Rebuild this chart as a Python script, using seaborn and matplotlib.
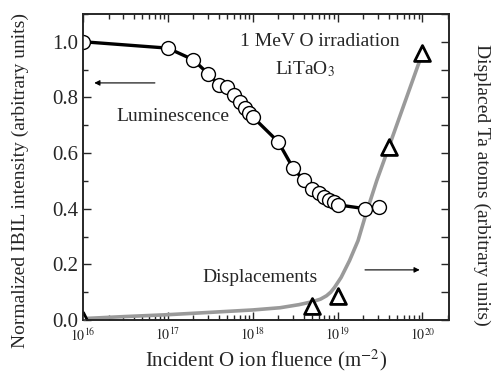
import numpy as np
import pandas as pd
import matplotlib
matplotlib.use("Agg")
import matplotlib.pyplot as plt
import seaborn as sns
from matplotlib.ticker import LogLocator, MultipleLocator, NullFormatter

# Luminescence (left axis)
lum_fluence = [1e16, 1e17, 2e17, 3e17, 4e17, 5e17, 6e17, 7e17, 8e17, 9e17, 1e18,
               2e18, 3e18, 4e18, 5e18, 6e18, 7e18, 8e18, 9e18, 1e19, 2.1e19, 3.1e19]
lum_intensity = [1.0, 0.977, 0.935, 0.884, 0.844, 0.839, 0.809, 0.785, 0.761, 0.744, 0.730,
                 0.640, 0.545, 0.502, 0.472, 0.456, 0.441, 0.432, 0.423, 0.414, 0.400, 0.405]

# Displacements (right axis) - measured points
disp_fluence = [1e16, 5e18, 1e19, 4e19, 1e20]
disp_value = [0.0, 0.050, 0.087, 0.622, 0.960]

# Displacements - fitted curve
curve_fluence = [1e16, 3e16, 1e17, 3e17, 1e18, 2.1e18, 3.5e18, 5.1e18, 6.3e18, 7.4e18, 8.3e18,
                 9.2e18, 1.1e19, 1.38e19, 1.74e19, 2.1e19, 2.5e19, 2.9e19, 4e19, 1e20]
curve_value = [0.005, 0.012, 0.019, 0.027, 0.036, 0.044, 0.055, 0.066, 0.075, 0.087, 0.100,
               0.117, 0.153, 0.213, 0.285, 0.369, 0.441, 0.502, 0.620, 0.960]

x_ticks = [1e16, 1e17, 1e18, 1e19, 1e20]
x_ticklabels = [r"$10^{16}$", r"$10^{17}$", r"$10^{18}$", r"$10^{19}$", r"$10^{20}$"]

sns.set_style("ticks")
plt.rcParams["font.family"] = ["Liberation Serif", "DejaVu Serif"]
plt.rcParams["mathtext.fontset"] = "stix"

fig = plt.figure(figsize=(4.97, 3.76), dpi=100)
ax = fig.add_axes([0.167, 0.149, 0.736, 0.814])

lum_df = pd.DataFrame({"f": lum_fluence, "v": lum_intensity})
curve_df = pd.DataFrame({"f": curve_fluence, "v": curve_value})
disp_df = pd.DataFrame({"f": disp_fluence, "v": disp_value})

ax.set_xscale("log")
sns.lineplot(data=curve_df, x="f", y="v", ax=ax, color="#9a9a9a", lw=2.6, zorder=2)
sns.lineplot(data=lum_df, x="f", y="v", ax=ax, color="black", lw=2.4, zorder=3,
             marker="o", markersize=10, markerfacecolor="white",
             markeredgecolor="black", markeredgewidth=1.0)
sns.scatterplot(data=disp_df, x="f", y="v", ax=ax, marker="^", s=130,
                facecolor="white", edgecolor="black", linewidth=2.0, zorder=4)

ax.set_xlim(1e16, 10 ** 20.31)
ax.set_ylim(0, 1.1)
ax.set_xticks(x_ticks)
ax.set_xticklabels(x_ticklabels, fontsize=10)
ax.xaxis.set_minor_locator(LogLocator(base=10, subs=np.arange(2, 10)))
ax.xaxis.set_minor_formatter(NullFormatter())
ax.yaxis.set_major_locator(MultipleLocator(0.2))
ax.yaxis.set_minor_locator(MultipleLocator(0.1))
ax.set_yticklabels([f"{v:.1f}" for v in ax.get_yticks()], fontsize=15)
ax.tick_params(which="both", direction="in", top=True, right=False, width=1.0)
ax.tick_params(which="major", length=6)
ax.tick_params(which="minor", length=3.5)
ax.tick_params(axis="x", which="major", pad=5)
for s in ax.spines.values():
    s.set_linewidth(1.2)

ax.set_xlabel(r"Incident O ion fluence (m$^{-2}$)", fontsize=15, labelpad=3)
ax.set_ylabel("Normalized IBIL intensity (arbitrary units)", fontsize=14)
ax.yaxis.set_label_coords(-0.148, 0.455)

ax2 = ax.twinx()
ax2.set_ylim(0, 1.1)
ax2.yaxis.set_major_locator(MultipleLocator(0.1))
ax2.tick_params(which="both", direction="in", length=6, width=1.0, labelright=False)
ax2.set_ylabel("Displaced Ta atoms (arbitrary units)", fontsize=14, rotation=270, va="center")
ax2.yaxis.set_label_coords(1.09, 0.44)
for s in ax2.spines.values():
    s.set_linewidth(1.2)

ax.text(10 ** 18.79, 1.0, "1 MeV O irradiation", fontsize=14, ha="center", va="center")
ax.text(10 ** 18.62, 0.9, r"LiTaO$_3$", fontsize=14, ha="center", va="center")
ax.text(10 ** 17.06, 0.73, "Luminescence", fontsize=14, ha="center", va="center")
ax.text(10 ** 18.08, 0.152, "Displacements", fontsize=14, ha="center", va="center")

ax.annotate("", xy=(10 ** 16.1, 0.852), xytext=(10 ** 16.88, 0.852),
            arrowprops=dict(arrowstyle="-|>", color="black", lw=0.8, mutation_scale=8))
ax.annotate("", xy=(10 ** 20.0, 0.18), xytext=(10 ** 19.29, 0.18),
            arrowprops=dict(arrowstyle="-|>", color="black", lw=0.8, mutation_scale=8))

fig.savefig("out.png", dpi=100)
